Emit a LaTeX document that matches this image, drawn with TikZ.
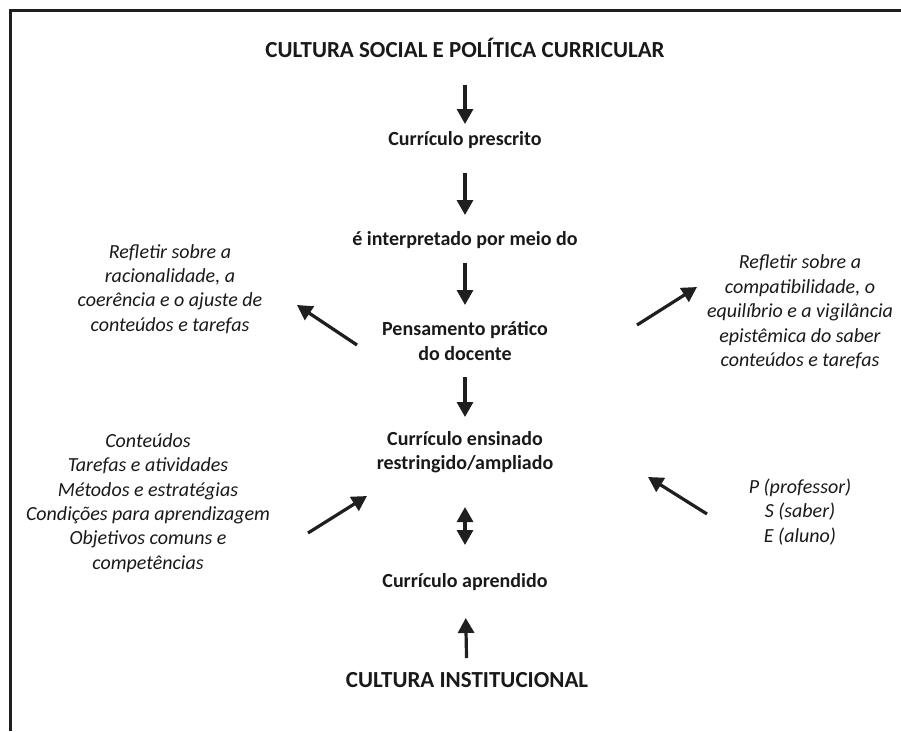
\documentclass[tikz,border=0pt]{standalone}
\usepackage{fontspec}
\setmainfont{Carlito}
\usetikzlibrary{arrows.meta}

\tikzset{
  headline/.style={font=\bfseries\fontsize{23}{27}\selectfont, inner sep=0pt, text=black!90},
  stage/.style={font=\bfseries\fontsize{20}{24.4}\selectfont, align=center, inner sep=0pt, text=black!90},
  gloss/.style={font=\itshape\fontsize{20}{24.4}\selectfont, align=center, inner sep=0pt, text=black!90},
  arr/.style={-{Triangle[length=15pt,width=16pt]}, line width=3.2pt, draw=black!88},
  twoarr/.style={{Triangle[length=15pt,width=16pt]}-{Triangle[length=15pt,width=16pt]}, line width=3.2pt, draw=black!88},
}

\begin{document}
\begin{tikzpicture}[x=1pt,y=-1pt]
\useasboundingbox (0,0) rectangle (901,731);
% frame
\draw[line width=3pt, black!88] (10.5,731) -- (10.5,10.5) -- (901,10.5);

% central column
\node[headline] (social) at (465,47.5) {CULTURA SOCIAL E POLÍTICA CURRICULAR};
\node[stage] (prescrito) at (465,140) {Currículo prescrito};
\node[stage] (interpretado) at (465,240) {é interpretado por meio do};
\node[stage] (pensamento) at (465,341) {Pensamento prático\\do docente};
\node[stage] (ensinado) at (465,452) {Currículo ensinado\\restringido/ampliado};
\node[stage] (aprendido) at (465,582) {Currículo aprendido};
\node[headline] (institucional) at (467,680) {CULTURA INSTITUCIONAL};

% side texts
\node[gloss] (racional) at (170,289) {Refletir sobre a\\racionalidade, a\\coerência e o ajuste de\\conteúdos e tarefas};
\node[gloss] (vigilancia) at (800,312) {Refletir sobre a\\compatibilidade, o\\equilíbrio e a vigilância\\epistêmica do saber\\conteúdos e tarefas};
\node[gloss] (elementos) at (148,503) {Conteúdos\\Tarefas e atividades\\Métodos e estratégias\\Condições para aprendizagem\\Objetivos comuns e\\competências};
\node[gloss] (triade) at (800,512) {P (professor)\\S (saber)\\E (aluno)};

% vertical arrows
\draw[arr, shorten <=37pt, shorten >=16pt] (social.center) -- (prescrito.center);
\draw[arr, shorten <=33pt, shorten >=25pt] (prescrito.center) -- (interpretado.center);
\draw[arr, shorten <=23pt, shorten >=36pt] (interpretado.center) -- (pensamento.center);
\draw[arr, shorten <=36pt, shorten >=35pt] (pensamento.center) -- (ensinado.center);
\draw[twoarr, shorten <=55pt, shorten >=37pt] (ensinado.center) -- (aprendido.center);
\draw[arr, shorten <=22pt, shorten >=36pt] (institucional.center) -- (aprendido.center);

% diagonal arrows
\coordinate (pL) at (357,345);
\coordinate (rL) at (297,305);
\coordinate (pR) at (637,325);
\coordinate (rR) at (697,287);
\coordinate (eL) at (308,533);
\coordinate (cL) at (367,496);
\coordinate (tR) at (707,514);
\coordinate (cR) at (648,477);
\draw[arr] (pL) -- (rL);
\draw[arr] (pR) -- (rR);
\draw[arr] (eL) -- (cL);
\draw[arr] (tR) -- (cR);
\end{tikzpicture}
\end{document}
